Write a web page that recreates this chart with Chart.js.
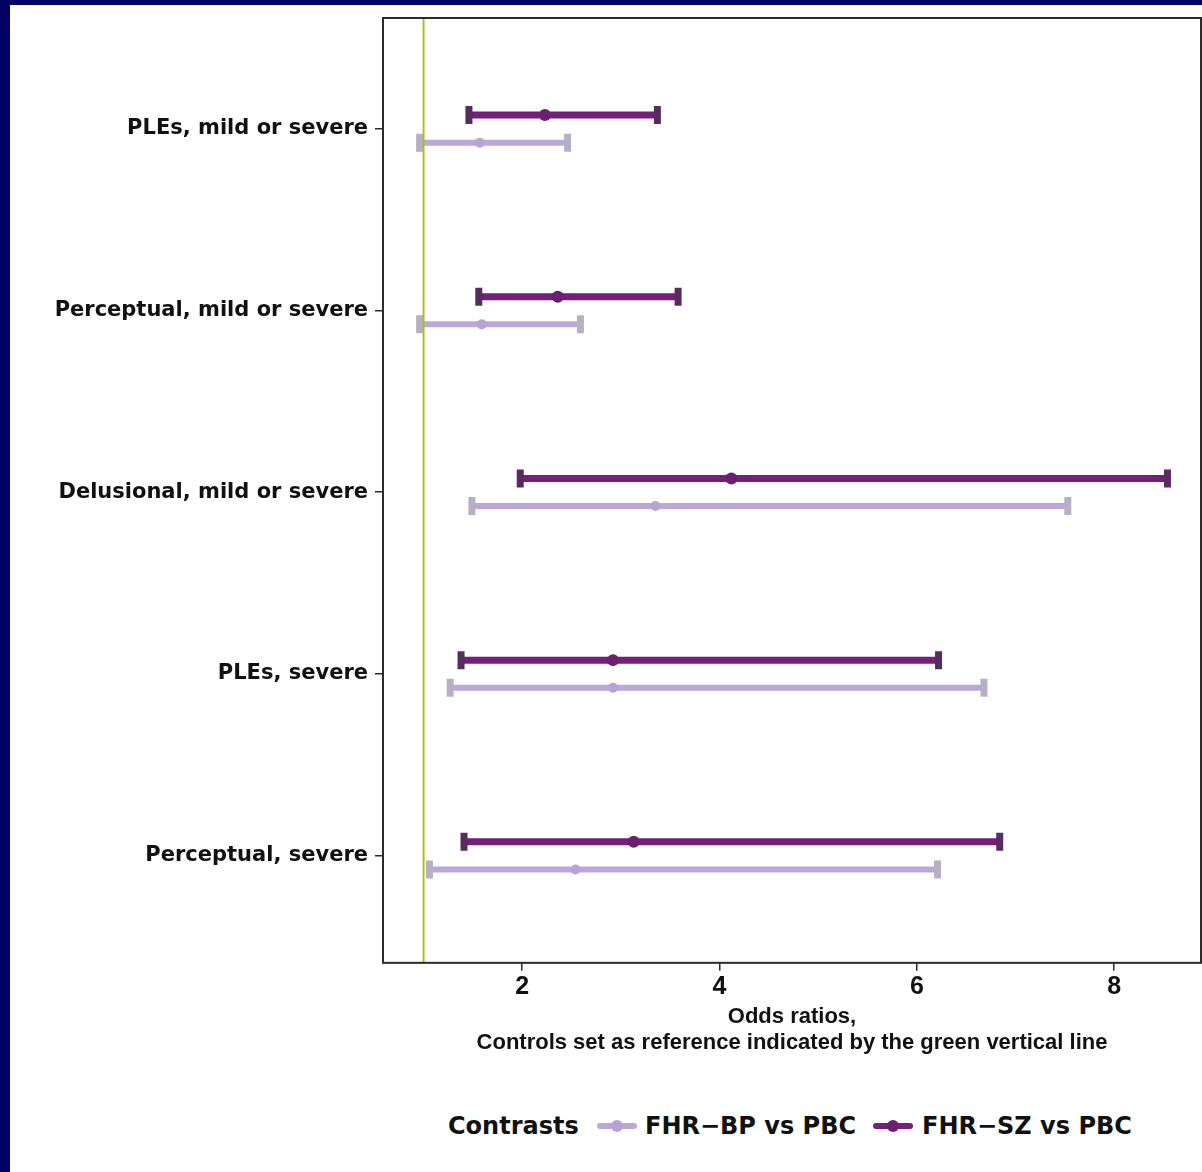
<!DOCTYPE html>
<html>
<head>
<meta charset="utf-8">
<script src="https://cdn.jsdelivr.net/npm/chart.js@4.4.1/dist/chart.umd.min.js"></script>
<style>
    html, body { margin: 0; padding: 0; background: #020063; width: 1202px; height: 1172px; overflow: hidden; }
    #panel { position: absolute; left: 10px; top: 5px; width: 1192px; height: 1167px; background: #fff; }
    #chartWrap { position: absolute; left: 0; top: 0; width: 1192px; height: 1050px; }
    #legend { position: absolute; left: 0; top: 1106px; width: 1192px; height: 30px;
        font-family: "DejaVu Sans", sans-serif; font-weight: bold; font-size: 24px; color: #111; }
    #legend .txt { position: absolute; top: 0; line-height: 30px; white-space: nowrap; }
    .key { position: absolute; top: 5px; width: 40px; height: 20px; }
    .key .bar { position: absolute; left: 0; right: 0; top: 7px; height: 6px; border-radius: 3px; }
    .key .dot { position: absolute; left: 14px; top: 4px; width: 12px; height: 12px; border-radius: 50%; }
</style>
</head>
<body>
<div id="panel">
    <div id="chartWrap"><canvas id="forestChart"></canvas></div>
    <div id="legend">
        <span class="txt" style="left:438px">Contrasts</span>
        <span class="key" style="left:587px"><span class="bar" style="background:#bca8d8"></span><span class="dot" style="background:#b9a3d6"></span></span>
        <span class="txt" style="left:635px">FHR−BP vs PBC</span>
        <span class="key" style="left:863px"><span class="bar" style="background:#761e7b"></span><span class="dot" style="background:#6a1f6f"></span></span>
        <span class="txt" style="left:912px">FHR−SZ vs PBC</span>
    </div>
</div>
<script>
// Outcomes, top to bottom
const categories = [
    "PLEs, mild or severe",
    "Perceptual, mild or severe",
    "Delusional, mild or severe",
    "PLEs, severe",
    "Perceptual, severe"
];

// Odds ratios with confidence limits, FHR-SZ vs PBC
const szOR   = [2.23, 2.36, 4.12, 2.92, 3.13];
const szLow  = [1.46, 1.56, 1.98, 1.38, 1.41];
const szHigh = [3.37, 3.58, 8.54, 6.22, 6.84];

// Odds ratios with confidence limits, FHR-BP vs PBC
const bpOR   = [1.57, 1.59, 3.35, 2.92, 2.54];
const bpLow  = [0.96, 0.96, 1.49, 1.27, 1.06];
const bpHigh = [2.46, 2.59, 7.53, 6.68, 6.21];

const xTicks = [2, 4, 6, 8];
const referenceOR = 1;

// Vertical offset of each contrast around its category row
const SZ_SHIFT = -0.076;
const BP_SHIFT = 0.076;

// Interval segments, separated by null gaps so each row is its own line
function intervalLines(low, high, shift) {
    const pts = [];
    low.forEach((lo, i) => {
        pts.push({ x: lo, y: i + shift }, { x: high[i], y: i + shift }, { x: lo, y: null });
    });
    return pts;
}

function capPoints(low, high, shift) {
    return low.flatMap((lo, i) => [{ x: lo, y: i + shift }, { x: high[i], y: i + shift }]);
}

function estPoints(est, shift) {
    return est.map((v, i) => ({ x: v, y: i + shift }));
}

// Draws the box around the plot area
const frame = {
    id: "frame",
    afterDraw(chart) {
        const { ctx, chartArea: a } = chart;
        ctx.save();
        ctx.strokeStyle = "#2b2b2b";
        ctx.lineWidth = 2;
        ctx.strokeRect(a.left, a.top, a.right - a.left, a.bottom - a.top);
        ctx.restore();
    }
};

const Y_MIN = -0.61, Y_MAX = 4.59;

new Chart(document.getElementById("forestChart"), {
    type: "scatter",
    data: {
        datasets: [
            {
                type: "line",
                data: [{ x: referenceOR, y: Y_MIN }, { x: referenceOR, y: Y_MAX }],
                borderColor: "#a9c31b",
                borderWidth: 2,
                pointRadius: 0,
                order: 0
            },
            {
                type: "line",
                data: intervalLines(bpLow, bpHigh, BP_SHIFT),
                borderColor: "#bca8d8",
                borderWidth: 6,
                pointRadius: 0,
                spanGaps: false,
                order: 6
            },
            {
                data: capPoints(bpLow, bpHigh, BP_SHIFT),
                pointStyle: "line",
                rotation: 90,
                pointRadius: 9,
                borderColor: "#b7b0c4",
                borderWidth: 7,
                order: 5
            },
            {
                data: estPoints(bpOR, BP_SHIFT),
                pointStyle: "circle",
                pointRadius: 5,
                backgroundColor: "#b9a3d6",
                borderWidth: 0,
                order: 4
            },
            {
                type: "line",
                data: intervalLines(szLow, szHigh, SZ_SHIFT),
                borderColor: "#761e7b",
                borderWidth: 7,
                pointRadius: 0,
                spanGaps: false,
                order: 3
            },
            {
                data: capPoints(szLow, szHigh, SZ_SHIFT),
                pointStyle: "line",
                rotation: 90,
                pointRadius: 9,
                borderColor: "#582c5e",
                borderWidth: 7,
                order: 2
            },
            {
                data: estPoints(szOR, SZ_SHIFT),
                pointStyle: "circle",
                pointRadius: 6,
                backgroundColor: "#6a1f6f",
                borderWidth: 0,
                order: 1
            }
        ]
    },
    options: {
        responsive: true,
        maintainAspectRatio: false,
        animation: false,
        layout: { autoPadding: false, padding: { top: 13, right: 1, left: 0, bottom: 0 } },
        plugins: {
            legend: { display: false },
            tooltip: { enabled: false }
        },
        scales: {
            x: {
                type: "linear",
                min: 0.589,
                max: 8.88,
                afterBuildTicks: scale => { scale.ticks = xTicks.map(v => ({ value: v })); },
                afterFit: scale => { scale.paddingLeft = 0; scale.paddingRight = 0; },
                grid: { drawOnChartArea: false, drawTicks: true, tickLength: 8, color: "#2b2b2b", lineWidth: 1.5 },
                border: { display: false },
                ticks: {
                    color: "#111",
                    padding: 1,
                    font: { family: "'Liberation Sans Narrow', 'Liberation Sans', Arial", weight: "bold", size: 25 }
                },
                title: {
                    display: true,
                    text: ["Odds ratios,", "Controls set as reference indicated by the green vertical line"],
                    color: "#111",
                    padding: { top: 2, bottom: 0 },
                    font: { family: "'Liberation Sans Narrow', 'Liberation Sans', Arial", weight: "bold", size: 22, lineHeight: 1.14 }
                }
            },
            y: {
                type: "linear",
                reverse: true,
                min: Y_MIN,
                max: Y_MAX,
                afterBuildTicks: scale => { scale.ticks = categories.map((_, i) => ({ value: i })); },
                afterFit: scale => { scale.width = 373; scale.paddingTop = 0; scale.paddingBottom = 0; },
                grid: { drawOnChartArea: false, drawTicks: true, tickLength: 8, color: "#2b2b2b", lineWidth: 1.5 },
                border: { display: false },
                ticks: {
                    color: "#111",
                    padding: 7,
                    callback: v => categories[v],
                    font: { family: "'DejaVu Sans', sans-serif", weight: "bold", size: 21 }
                }
            }
        }
    },
    plugins: [frame]
});
</script>
</body>
</html>
